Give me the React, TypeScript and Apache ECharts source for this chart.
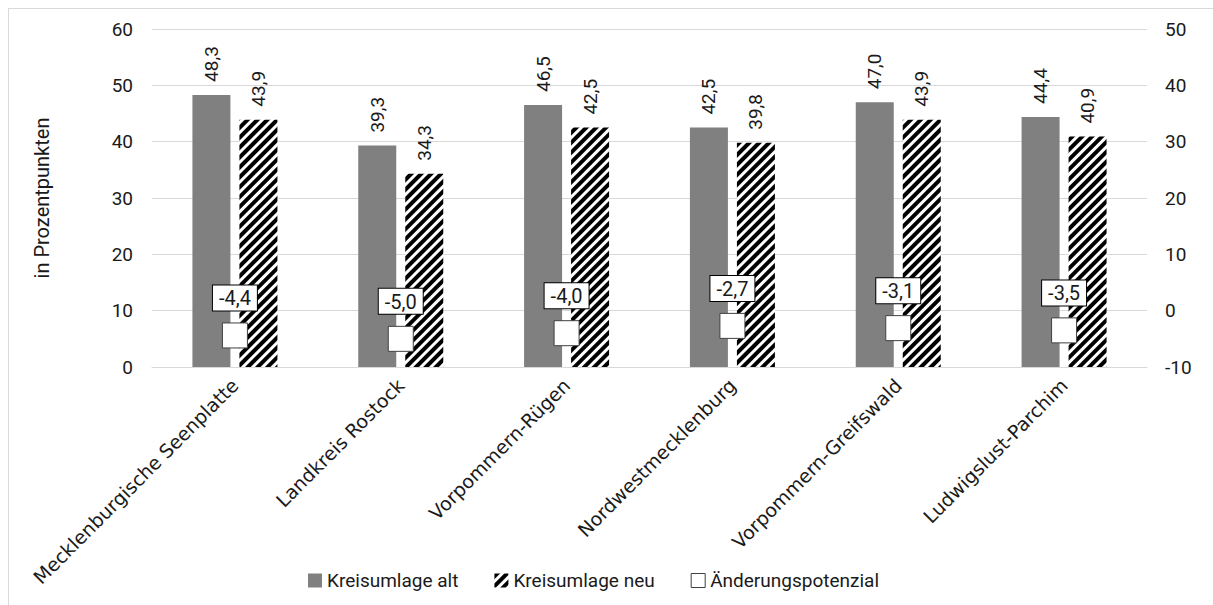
import React, { useEffect, useRef } from "react";
import * as echarts from "echarts";

const categories = [
  "Mecklenburgische Seenplatte",
  "Landkreis Rostock",
  "Vorpommern-Rügen",
  "Nordwestmecklenburg",
  "Vorpommern-Greifswald",
  "Ludwigslust-Parchim",
];
const kreisumlageAlt = [48.3, 39.3, 46.5, 42.5, 47.0, 44.4];
const kreisumlageNeu = [43.9, 34.3, 42.5, 39.8, 43.9, 40.9];
const aenderungspotenzial = [-4.4, -5.0, -4.0, -2.7, -3.1, -3.5];

const fmt = (v: number) => v.toFixed(1).replace(".", ",");
const NUM_FONT = "Roboto";
const CAT_FONT = "DejaVu Sans";
const TXT = "#1a1a1a";
const BAR_W = 38;
const BAR_GAP = 9;

export default function App() {
  const ref = useRef<HTMLDivElement>(null);
  useEffect(() => {
    if (!ref.current) return;
    const chart = echarts.init(ref.current, undefined, { renderer: "svg" });
    const barLabel = () => ({
      show: true,
      position: "top",
      rotate: 90,
      align: "left",
      verticalAlign: "middle",
      distance: 13,
      fontSize: 19,
      fontFamily: NUM_FONT,
      color: TXT,
      formatter: (p: any) => fmt(p.value),
    });
    const gap = (BAR_GAP / BAR_W) * 100 + "%";
    chart.setOption({
      animation: false,
      grid: { left: 143, right: 66, top: 20, bottom: 238, containLabel: false },
      legend: {
        left: 294,
        top: 557,
        itemWidth: 14,
        itemHeight: 14,
        itemGap: 36,
        textStyle: { fontSize: 19, fontFamily: NUM_FONT, color: TXT },
        data: [
          { name: "Kreisumlage alt", icon: "rect" },
          { name: "Kreisumlage neu", icon: "rect" },
          {
            name: "Änderungspotenzial",
            icon: "rect",
            itemStyle: { color: "#fff", borderColor: "#404040", borderWidth: 1 },
          },
        ],
      },
      xAxis: {
        type: "category",
        data: categories,
        axisLine: { lineStyle: { color: "#d9d9d9", width: 1 } },
        axisTick: { show: false },
        axisLabel: {
          interval: 0,
          rotate: 45,
          margin: 15,
          fontSize: 19,
          fontFamily: CAT_FONT,
          color: TXT,
        },
      },
      yAxis: [
        {
          type: "value",
          min: 0,
          max: 60,
          interval: 10,
          name: "in Prozentpunkten",
          nameLocation: "middle",
          nameGap: 100,
          nameTextStyle: { fontSize: 20, fontFamily: NUM_FONT, color: TXT },
          axisLine: { show: false },
          axisTick: { show: false },
          axisLabel: { fontSize: 19, fontFamily: NUM_FONT, color: TXT, margin: 19 },
          splitLine: { lineStyle: { color: "#d9d9d9", width: 1 } },
        },
        {
          type: "value",
          min: -10,
          max: 50,
          interval: 10,
          position: "right",
          axisLine: { show: false },
          axisTick: { show: false },
          axisLabel: { fontSize: 19, fontFamily: NUM_FONT, color: TXT, margin: 18 },
          splitLine: { show: false },
        },
      ],
      series: [
        {
          name: "Kreisumlage alt",
          type: "bar",
          data: kreisumlageAlt,
          barWidth: BAR_W,
          barGap: gap,
          itemStyle: { color: "#808080" },
          label: barLabel(),
        },
        {
          name: "Kreisumlage neu",
          type: "bar",
          data: kreisumlageNeu,
          barWidth: BAR_W,
          barGap: gap,
          itemStyle: {
            color: "#ffffff",
            decal: {
              symbol: "rect",
              symbolSize: 1,
              color: "#000000",
              dashArrayX: [1, 0],
              dashArrayY: [4, 3],
              rotation: -Math.PI / 4,
            },
          },
          label: barLabel(),
        },
        {
          name: "Änderungspotenzial",
          type: "scatter",
          yAxisIndex: 1,
          data: aenderungspotenzial,
          symbol: "rect",
          symbolSize: 25,
          itemStyle: { color: "#ffffff", borderColor: "#404040", borderWidth: 1, opacity: 1 },
          label: {
            show: true,
            position: "top",
            distance: 12,
            backgroundColor: "#ffffff",
            borderColor: "#000000",
            borderWidth: 1,
            padding: [3, 6, 2, 6],
            fontSize: 20,
            fontFamily: NUM_FONT,
            color: TXT,
            formatter: (p: any) => fmt(p.value),
          },
          z: 5,
        },
      ],
    });
    return () => chart.dispose();
  }, []);
  return (
    <div
      style={{
        position: "fixed",
        left: 8,
        top: 8,
        width: 1205,
        height: 597,
        borderLeft: "1px solid #d9d9d9",
        borderTop: "1px solid #d9d9d9",
        boxSizing: "border-box",
        background: "#fff",
      }}
    >
      <div ref={ref} style={{ width: 1204, height: 596 }} />
    </div>
  );
}
